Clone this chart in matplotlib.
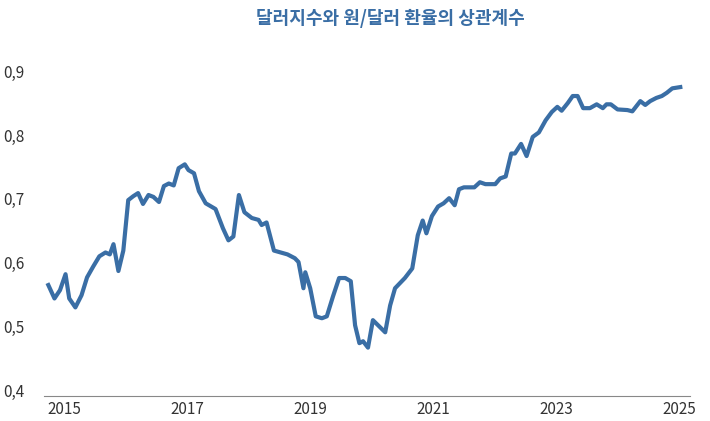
import matplotlib
matplotlib.use("Agg")
import matplotlib.pyplot as plt

plt.rcParams['font.family'] = ['Noto Sans CJK KR', 'DejaVu Sans']

years = [2014.74,2014.84,2014.93,2015.02,2015.08,2015.18,2015.28,2015.37,2015.47,2015.57,2015.67,2015.74,2015.80,2015.88,2015.96,2016.04,2016.12,2016.20,2016.28,2016.37,2016.45,2016.54,2016.62,2016.70,2016.78,2016.86,2016.96,2017.02,2017.11,2017.19,2017.30,2017.46,2017.58,2017.67,2017.75,2017.84,2017.93,2018.05,2018.16,2018.21,2018.29,2018.41,2018.63,2018.75,2018.81,2018.89,2018.92,2019.00,2019.09,2019.19,2019.27,2019.37,2019.47,2019.57,2019.66,2019.73,2019.80,2019.86,2019.94,2020.02,2020.22,2020.30,2020.38,2020.54,2020.66,2020.75,2020.83,2020.89,2020.98,2021.08,2021.17,2021.26,2021.35,2021.42,2021.50,2021.67,2021.76,2021.85,2022.01,2022.09,2022.18,2022.27,2022.33,2022.43,2022.52,2022.62,2022.72,2022.83,2022.93,2023.02,2023.09,2023.19,2023.27,2023.35,2023.44,2023.55,2023.66,2023.76,2023.82,2023.89,2024.00,2024.16,2024.24,2024.37,2024.45,2024.53,2024.63,2024.72,2024.80,2024.89,2025.02]
corr = [0.565,0.544,0.557,0.582,0.544,0.530,0.549,0.577,0.594,0.610,0.616,0.613,0.629,0.587,0.619,0.698,0.704,0.709,0.692,0.706,0.703,0.695,0.720,0.724,0.721,0.748,0.754,0.745,0.740,0.712,0.693,0.684,0.654,0.635,0.641,0.706,0.679,0.670,0.667,0.659,0.663,0.619,0.613,0.607,0.601,0.560,0.585,0.560,0.516,0.513,0.516,0.547,0.576,0.576,0.571,0.502,0.474,0.477,0.467,0.510,0.491,0.533,0.560,0.576,0.591,0.643,0.666,0.646,0.673,0.688,0.693,0.701,0.690,0.715,0.718,0.718,0.726,0.723,0.723,0.732,0.735,0.771,0.771,0.786,0.767,0.797,0.804,0.823,0.836,0.844,0.838,0.850,0.861,0.861,0.842,0.842,0.848,0.842,0.848,0.848,0.840,0.839,0.837,0.853,0.847,0.853,0.858,0.861,0.866,0.873,0.875]
xticks = [2015, 2017, 2019, 2021, 2023, 2025]
yticks = [0.4, 0.5, 0.6, 0.7, 0.8, 0.9]
ytick_labels = ['0,4', '0,5', '0,6', '0,7', '0,8', '0,9']
title = '달러지수와 원/달러 환율의 상관계수'

fig = plt.figure(figsize=(7.1, 4.21), dpi=100)
ax = fig.add_axes([0.062, 0.059, 0.91, 0.81])
ax.plot(years, corr, color='#3a6ea5', lw=3, solid_joinstyle='round')
ax.set_xlim(2014.67, 2025.18)
ax.set_ylim(0.391, 0.925)
ax.set_xticks(xticks)
ax.set_xticklabels([str(y) for y in xticks])
ax.set_yticks(yticks)
ax.set_yticklabels(ytick_labels)
for s in ['top', 'right', 'left']:
    ax.spines[s].set_visible(False)
ax.spines['bottom'].set_color('#888888')
ax.tick_params(axis='both', length=0, labelsize=11, colors='#333333')
ax.tick_params(axis='y', pad=14)
fig.text(0.55, 0.955, title, ha='center', va='center', fontsize=13,
         fontweight='bold', color='#3a6ea5')
fig.savefig('out.png', dpi=100)
